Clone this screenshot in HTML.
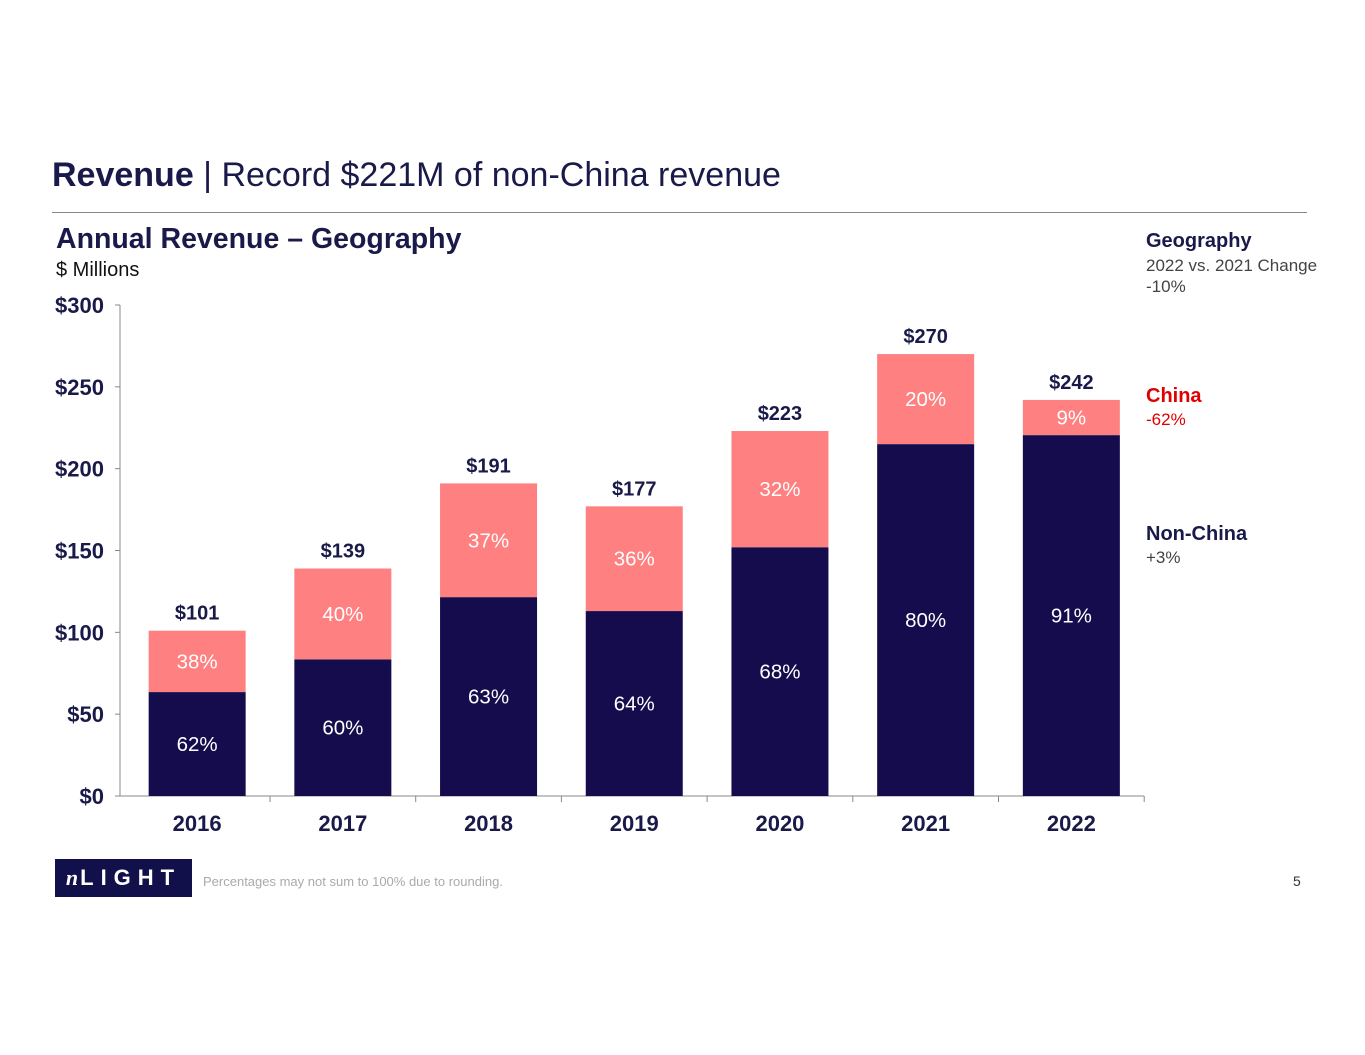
<!DOCTYPE html>
<html><head><meta charset="utf-8"><style>
body{margin:0;width:1365px;height:1055px;background:#fff;font-family:"Liberation Sans",Arial,sans-serif;position:relative;overflow:hidden}
.a{position:absolute;white-space:nowrap}
</style></head><body>
<div class="a" style="left:52px;top:156px;font-size:34px;color:#1a1a4a"><b>Revenue</b> | Record $221M of non-China revenue</div>
<div class="a" style="left:52px;top:212px;width:1255px;height:1px;background:#888"></div>
<div class="a" style="left:56px;top:223px;font-size:28.5px;font-weight:bold;color:#1a1a4a">Annual Revenue – Geography</div>
<div class="a" style="left:56px;top:259px;font-size:20px;color:#111">$ Millions</div>
<div class="a" style="left:1146px;top:230px;font-size:20px;font-weight:bold;color:#1a1a4a">Geography</div>
<div class="a" style="left:1146px;top:255px;font-size:17px;color:#444;line-height:21px">2022 vs. 2021 Change<br>-10%</div>
<div class="a" style="left:1146px;top:385px;font-size:20px;font-weight:bold;color:#e00000">China</div>
<div class="a" style="left:1146px;top:410px;font-size:17px;color:#e00000">-62%</div>
<div class="a" style="left:1146px;top:523px;font-size:20px;font-weight:bold;color:#1a1a4a">Non-China</div>
<div class="a" style="left:1146px;top:548px;font-size:17px;color:#444">+3%</div>
<svg class="a" style="left:0;top:0" width="1365" height="1055" id="svg"></svg>
<div class="a" style="left:55px;top:859px;width:137px;height:38px;background:#12104a;color:#fff;font-size:22px;font-weight:bold;line-height:38px;text-align:center;letter-spacing:7px"><i style="font-family:'Liberation Serif',serif;letter-spacing:2px">n</i>LIGHT</div>
<div class="a" style="left:203px;top:874px;font-size:13px;color:#aaa">Percentages may not sum to 100% due to rounding.</div>
<div class="a" style="left:1293px;top:873px;font-size:14px;color:#333">5</div>
<script>
const years=["2016","2017","2018","2019","2020","2021","2022"];
const totals=[101,139,191,177,223,270,242];
const nonChina=[63.5,83.5,121.5,113,152,215,220.5];
const nonChinaPct=["62%","60%","63%","64%","68%","80%","91%"];
const chinaPct=["38%","40%","37%","36%","32%","20%","9%"];
const yTicks=[0,50,100,150,200,250,300];
const NS="http://www.w3.org/2000/svg",svg=document.getElementById('svg');
const x0=124.3,cw=145.7,bw=97;
const y=v=>796-v*491/300, xc=i=>x0+cw*(i+0.5);
function el(t,a,txt){const e=document.createElementNS(NS,t);for(const k in a)e.setAttribute(k,a[k]);if(txt!=null)e.textContent=txt;svg.appendChild(e);return e;}
let e=el('line',{x1:120,y1:305,x2:120,y2:796,stroke:'#888'});

e=el('line',{x1:115,y1:796,x2:1144,y2:796,stroke:'#888'});

yTicks.forEach(v=>{
 el('line',{x1:115,x2:120,y1:y(v),y2:y(v),stroke:'#888'});
 const t=el('text',{x:104,y:y(v)+8,'text-anchor':'end','font-size':22,'font-weight':'bold',fill:'#1a1a4a'},'$'+v);
 
});
years.forEach((yr,i)=>{
 const bx=xc(i)-bw/2, tx=x0+cw*(i+1);
 el('line',{x1:tx,x2:tx,y1:796,y2:802,stroke:'#888'});
 let r=el('rect',{x:bx,y:y(nonChina[i]),width:bw,height:y(0)-y(nonChina[i]),fill:'#140c4c'});
 
 r=el('rect',{x:bx,y:y(totals[i]),width:bw,height:y(nonChina[i])-y(totals[i]),fill:'#fe8080'});
 
 let t=el('text',{x:xc(i),y:(y(0)+y(nonChina[i]))/2+7,'text-anchor':'middle','font-size':20.5,fill:'#fff'},nonChinaPct[i]);
 
 t=el('text',{x:xc(i),y:(y(nonChina[i])+y(totals[i]))/2+7,'text-anchor':'middle','font-size':20.5,fill:'#fff'},chinaPct[i]);
 
 t=el('text',{x:xc(i),y:y(totals[i])-11,'text-anchor':'middle','font-size':20,'font-weight':'bold',fill:'#1a1a4a'},'$'+totals[i]);
 
 t=el('text',{x:xc(i),y:831,'text-anchor':'middle','font-size':22,'font-weight':'bold',fill:'#1a1a4a'},yr);
 
});
</script>
</body></html>
